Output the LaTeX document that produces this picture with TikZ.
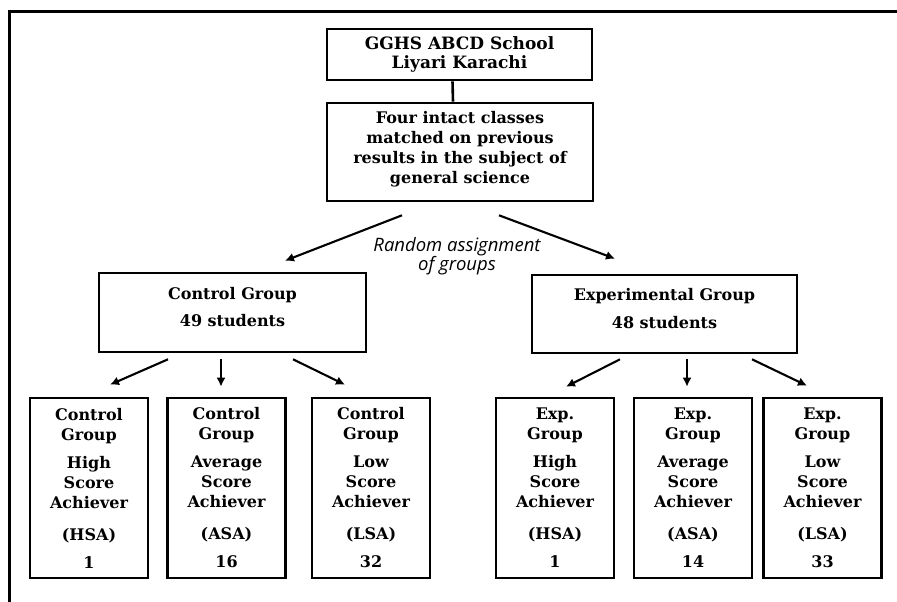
\documentclass[tikz,border=0pt]{standalone}
\usepackage{fontspec}
\setmainfont{DejaVu Serif}
\newfontfamily\opensans{Open Sans}
\usetikzlibrary{arrows.meta,calc}
\begin{document}
\begin{tikzpicture}[x=1pt,y=-1pt,
  box/.style={draw=black,line width=2.6pt,inner sep=0pt,align=center,
    font=\bfseries\fontsize{16}{20}\selectfont},
  leaf/.style={box,minimum width=118,minimum height=180},
  arr/.style={line width=2.1pt,-{Latex[length=9pt,width=9pt]}},
  frame/.style={line width=3pt}]
\useasboundingbox (0,0) rectangle (897,602);
% frame
\coordinate (fa) at (9.5,602);
\coordinate (fb) at (9.5,11.5);
\coordinate (fc) at (897,11.5);
\draw[frame] (fa) -- (fb) -- (fc);
% top boxes
\node[box,minimum width=265,minimum height=51,
  font=\bfseries\fontsize{17}{19}\selectfont] (g) at (459.5,54.5)
  {GGHS ABCD School\\Liyari Karachi\rule[-4pt]{0pt}{0pt}};
\node[box,minimum width=266,minimum height=98] (f) at (460,152)
  {Four intact classes\\matched on previous\\results in the subject of\\general science\rule[-10pt]{0pt}{0pt}};
\draw[line width=2.6pt] ($(g.south)+(-7,0)$) -- ($(f.north)+(-7,0)$);
% random assignment label
\node[font=\opensans\itshape\fontsize{18.5}{19}\selectfont,align=center,inner sep=0pt]
  (r) at (457,256) {Random assignment\\of groups};
% groups
\node[box,minimum width=267,minimum height=79] (c) at (232.5,312.5)
  {Control Group\\[7pt]49 students\rule[-12pt]{0pt}{0pt}};
\node[box,minimum width=265,minimum height=78] (e) at (664.5,314)
  {Experimental Group\\[8pt]48 students\rule[-12pt]{0pt}{0pt}};
\draw[arr] ($(f.south)+(-58,13)$) -- ($(c.north)+(52.5,-11)$);
\draw[arr] ($(f.south)+(39,13)$) -- ($(e.north)+(-49.5,-15)$);
% leaves
\node[leaf] (c1) at (89,488)
  {Control\\Group\\[8pt]High\\Score\\Achiever\\[12pt](HSA)\\[8pt]1};
\node[leaf] (c2) at (226.5,488)
  {Control\\Group\\[8pt]Average\\Score\\Achiever\\[12pt](ASA)\\[8pt]16};
\node[leaf] (c3) at (371,488)
  {Control\\Group\\[8pt]Low\\Score\\Achiever\\[12pt](LSA)\\[8pt]32};
\node[leaf] (e1) at (555,488)
  {Exp.\\Group\\[8pt]High\\Score\\Achiever\\[12pt](HSA)\\[8pt]1};
\node[leaf] (e2) at (693,488)
  {Exp.\\Group\\[8pt]Average\\Score\\Achiever\\[12pt](ASA)\\[8pt]14};
\node[leaf] (e3) at (822.5,488)
  {Exp.\\Group\\[8pt]Low\\Score\\Achiever\\[12pt](LSA)\\[8pt]33};
% arrows to leaves
\draw[arr] ($(c.south)+(-64.5,6)$) -- ($(c1.north)+(21,-12)$);
\draw[arr] ($(c.south)+(-11.5,6)$) -- ($(c2.north)+(-5.5,-10)$);
\draw[arr] ($(c.south)+(60.5,6)$) -- ($(c3.north)+(-26,-12)$);
\draw[arr] ($(e.south)+(-44.5,5)$) -- ($(e1.north)+(11,-10)$);
\draw[arr] ($(e.south)+(22.5,5)$) -- ($(e2.north)+(-6,-10)$);
\draw[arr] ($(e.south)+(87.5,5)$) -- ($(e3.north)+(-15.5,-11)$);
\end{tikzpicture}
\end{document}
